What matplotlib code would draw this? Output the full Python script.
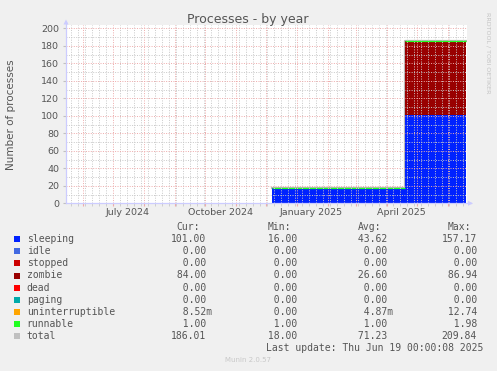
import matplotlib
matplotlib.use("Agg")
import matplotlib.pyplot as plt
import matplotlib.dates as mdates
from matplotlib.transforms import blended_transform_factory
from matplotlib.patches import Polygon, Rectangle
import numpy as np

# ---------------- data ----------------
step_dates = ["2024-12-07", "2025-04-19", "2025-06-19"]
sleeping = [17, 101]
idle = [0, 0]
stopped = [0, 0]
zombie = [0, 84]
dead = [0, 0]
paging = [0, 0]
uninterruptible = [0, 0.00852]
runnable = [1, 1]
total = [18, 186]

series_names = ["sleeping", "idle", "stopped", "zombie", "dead", "paging",
                "uninterruptible", "runnable", "total"]
series_colors = ["#0022ff", "#4169e1", "#cc0000", "#990000", "#ff0000",
                 "#00aaaa", "#ffa500", "#22ff22", "#c0c0c0"]
cur_vals = ["101.00", "  0.00", "  0.00", " 84.00", "  0.00", "  0.00", "  8.52m", "  1.00", "186.01"]
min_vals = [" 16.00", "  0.00", "  0.00", "  0.00", "  0.00", "  0.00", "  0.00", "  1.00", " 18.00"]
avg_vals = [" 43.62", "  0.00", "  0.00", " 26.60", "  0.00", "  0.00", "  4.87m", "  1.00", " 71.23"]
max_vals = ["157.17", "  0.00", "  0.00", " 86.94", "  0.00", "  0.00", " 12.74", "  1.98", "209.84"]
col_headers = ["Cur:", "Min:", "Avg:", "Max:"]

x_labels = ["July 2024", "October 2024", "January 2025", "April 2025"]
x_label_dates = ["2024-07-16", "2024-10-16", "2025-01-15", "2025-04-15"]
y_ticks = [0, 20, 40, 60, 80, 100, 120, 140, 160, 180, 200]

x_start = "2024-05-15"
x_end = "2025-06-20"

# ---------------- figure ----------------
W, H = 497, 371
fig = plt.figure(figsize=(W / 100, H / 100), dpi=100, facecolor="#f0f0f0")

def fx(px):
    return px / W

def fy(py):
    return 1 - py / H

ax_l, ax_r, ax_b, ax_t = 66, 467, 203.3, 25.3
ax = fig.add_axes([fx(ax_l), fy(ax_b), fx(ax_r - ax_l), (ax_b - ax_t) / H])
ax.set_facecolor("white")

d = [np.datetime64(s) for s in step_dates]
xd = mdates.date2num(d)

stack_series = [sleeping, idle, stopped, zombie, dead, paging, uninterruptible, runnable]
ax.step(xd, list(total) + [total[-1]], where="post", color="#b8b8b8",
        linewidth=1.6, zorder=1.9)
base = np.zeros(len(sleeping))
for vals, col in zip(stack_series, series_colors[:8]):
    v = np.array(vals, dtype=float)
    top = base + v
    ax.fill_between(xd, list(base) + [base[-1]], list(top) + [top[-1]],
                    step="post", color=col, linewidth=0, zorder=2)
    base = top
# top edge of the runnable band (horizontal segments only)
ax.hlines(base, xd[:-1], xd[1:], color=series_colors[7], linewidth=0.9, zorder=2.1)

ax.set_xlim(mdates.date2num(np.datetime64(x_start)), mdates.date2num(np.datetime64(x_end)))
ax.set_ylim(0, 203.4)

# grid
ax.xaxis.set_major_locator(mdates.MonthLocator())
ax.xaxis.set_minor_locator(mdates.WeekdayLocator(byweekday=mdates.MO))
ax.xaxis.set_major_formatter(plt.NullFormatter())
ax.set_yticks(y_ticks)
ax.set_yticks(list(range(10, 201, 20)), minor=True)
ax.grid(which="minor", color="#c8c8c8", linestyle=(0, (1, 1.5)), linewidth=0.7, zorder=4)
ax.grid(which="major", color="#eeaaaa", linestyle=(0, (1, 1.5)), linewidth=0.7, zorder=4)
ax.set_axisbelow(False)

ax.tick_params(axis="y", which="major", labelsize=6.8, labelcolor="#555555",
               length=2, color="#c0c0c0", pad=3)
ax.tick_params(axis="y", which="minor", length=0)
ax.tick_params(axis="x", which="major", length=2, color="#eeaaaa")
ax.tick_params(axis="x", which="minor", length=2, color="#c8c8c8")

for s in ax.spines.values():
    s.set_visible(False)

# axis lines with arrows
axis_col = "#ccccff"
fig.add_artist(plt.Line2D([fx(ax_l), fx(ax_l)], [fy(ax_b), fy(22)], color=axis_col, lw=0.9))
fig.add_artist(plt.Line2D([fx(ax_l), fx(471)], [fy(ax_b), fy(ax_b)], color=axis_col, lw=0.9))
fig.add_artist(Polygon([[fx(63.5), fy(24.5)], [fx(68.5), fy(24.5)], [fx(66), fy(19.5)]],
                       closed=True, color=axis_col, lw=0))
fig.add_artist(Polygon([[fx(468), fy(200.8)], [fx(468), fy(205.8)], [fx(473), fy(203.3)]],
                       closed=True, color=axis_col, lw=0))

# x labels
trans = blended_transform_factory(ax.transData, fig.transFigure)
for lab, ds in zip(x_labels, x_label_dates):
    ax.text(mdates.date2num(np.datetime64(ds)), fy(212.5), lab, transform=trans,
            ha="center", va="center", fontsize=6.8, color="#555555")

# title and labels
fig.text(fx(248), fy(20), "Processes - by year", ha="center", va="center",
         fontsize=9, color="#555555")
fig.text(fx(11), fy(115), "Number of processes", rotation=90, ha="center",
         va="center", fontsize=7.5, color="#555555")
fig.text(fx(487.5), fy(53), "RRDTOOL / TOBI OETIKER", rotation=270, ha="center",
         va="center", fontsize=4.6, color="#c4c4c4")

# legend table
mono = "DejaVu Sans Mono"
fs = 7
row_y = [239.3, 251.3, 263.3, 275.5, 287.6, 299.7, 311.7, 323.7, 335.7]
col_x = [170.7, 261.7, 351.7, 441.7]
char_w = 5.85
for hx, hd in zip(col_x, col_headers):
    fig.text(fx(hx + char_w), fy(227.3), hd, ha="left", va="center",
             fontsize=fs, family=mono, color="#555555")
for i, name in enumerate(series_names):
    y = row_y[i]
    fig.add_artist(Rectangle((fx(14), fy(y + 3)), fx(6), 6 / H,
                             color=series_colors[i], lw=0))
    fig.text(fx(26.7), fy(y), name, ha="left", va="center", fontsize=fs,
             family=mono, color="#555555")
    for cx, col in zip(col_x, [cur_vals, min_vals, avg_vals, max_vals]):
        fig.text(fx(cx), fy(y), col[i], ha="left", va="center",
                 fontsize=fs, family=mono, color="#555555")

fig.text(fx(483), fy(347.7), "Last update: Thu Jun 19 00:00:08 2025", ha="right",
         va="center", fontsize=fs, family=mono, color="#555555")
fig.text(fx(248), fy(360), "Munin 2.0.57", ha="center", va="center",
         fontsize=5, color="#c8c8c8")

fig.savefig("out.png", dpi=100, facecolor=fig.get_facecolor())
